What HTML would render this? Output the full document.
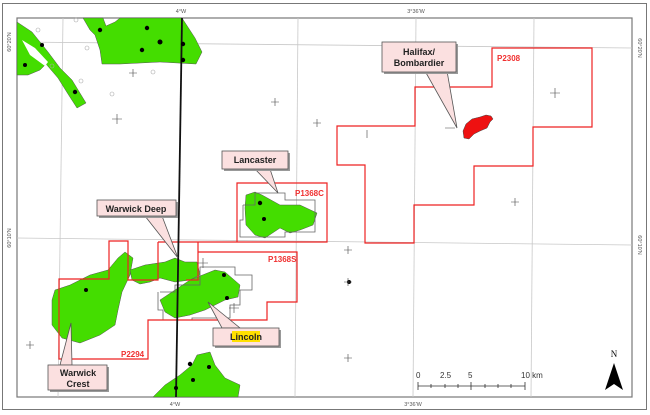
<!DOCTYPE html>
<html><head><meta charset="utf-8"><style>
body{margin:0;background:#fff;}
svg{display:block;font-family:"Liberation Sans",sans-serif;}
.cl{font-weight:bold;font-size:9px;fill:#222;text-anchor:middle}
.red{font-weight:bold;font-size:8px;fill:#f03030}
.ax{font-size:5.5px;fill:#555}
</style></head><body>
<svg width="650" height="415" viewBox="0 0 650 415">
<rect x="2.5" y="3.5" width="644" height="406" fill="#fff" stroke="#777" stroke-width="1"/>
<rect x="17" y="18" width="615" height="379" fill="#fff" stroke="#777" stroke-width="1.2"/>
<g stroke="#c8c8c8" stroke-width="0.8" fill="none">
<line x1="63" y1="18" x2="58" y2="397"/>
<line x1="298" y1="18" x2="295" y2="397"/>
<line x1="416" y1="18" x2="413" y2="397"/>
<line x1="534" y1="18" x2="531" y2="397"/>
<line x1="17" y1="42" x2="632" y2="48"/>
<line x1="17" y1="238" x2="632" y2="245"/>
</g>
<g fill="#44dd00" stroke="#555" stroke-width="0.5">
<path d="M17,22 L32,32 48,52 60,68 72,80 86,103 77,108 68,94 58,78 46,64 40,70 28,75 17,75Z"/>
<path d="M83,18 L103,18 106,26 115,22 120,18 182,18 195,38 202,52 196,64 160,62 120,64 102,64 100,50 95,35 90,30Z"/>
<path d="M246,195 L255,192 262,195 280,205 300,205 317,213 313,225 300,230 290,233 280,228 265,238 255,235 246,225 245,208Z"/>
<path d="M125,252 L133,258 130,275 122,292 118,310 115,325 100,335 80,343 62,338 52,325 52,300 55,290 70,285 90,275 108,270 118,258Z"/>
<path d="M130,270 L145,265 165,262 175,258 185,262 197,262 200,275 190,280 175,282 160,278 150,282 140,284 132,280Z"/>
<path d="M160,300 L175,290 190,280 215,270 225,272 240,285 238,297 225,300 215,305 205,310 190,315 175,318 165,312Z"/>
<path d="M153,397 L165,385 180,375 192,365 197,355 210,352 215,365 225,378 240,385 238,397Z"/>
</g>
<path d="M22,40 L35,48 48,62 45,66 30,55Z" fill="#fff"/>
<path d="M466,124 L472,119 480,117 486,115 491,116 493,119 490,122 487,128 480,131 474,134 469,139 464,138 463,131Z" fill="#ee1111" stroke="#444" stroke-width="0.5"/>
<g fill="none" stroke="#666" stroke-width="0.8">
<polyline points="243,205 255,205 255,193 285,193 285,200 315,200 315,232 285,232 285,237 240,237 240,220 243,220 243,205"/>
<polyline points="160,292 175,292 175,285 200,285 200,267 235,267 235,275 252,275 252,290 240,290 240,305 230,305 230,318 192,318 192,320 163,320 163,310 158,310 158,292"/>
</g>
<g fill="none" stroke="#ee2222" stroke-width="1.2">
<polygon points="492,48 592,48 592,127 533,127 533,166 474,166 474,205 414,205 414,243 365,243 365,165 337,165 337,126 415,126 415,87 492,87"/>
<polyline points="237,242 237,183 327,183 327,242 158,242"/>
<polyline points="198,242 198,280 186,280"/>
<polyline points="198,252 297,252 297,302 267,302 267,320 148,320 148,359 59,359 59,279 109,279 109,241 128,241 128,280 158,280 158,242"/>
</g>
<text class="red" x="497" y="61">P2308</text>
<text class="red" x="295" y="196">P1368C</text>
<text class="red" x="268" y="262">P1368S</text>
<text class="red" x="121" y="357">P2294</text>
<line x1="182" y1="18" x2="176" y2="397" stroke="#111" stroke-width="1.8"/>
<g fill="#000">
<circle cx="100" cy="30" r="2.2"/><circle cx="147" cy="28" r="2.2"/><circle cx="160" cy="42" r="2.5"/><circle cx="142" cy="50" r="2.2"/><circle cx="183" cy="44" r="2.2"/><circle cx="183" cy="60" r="2.2"/><circle cx="25" cy="65" r="2"/><circle cx="42" cy="45" r="2"/><circle cx="75" cy="92" r="2.2"/>
<circle cx="260" cy="203" r="2.2"/><circle cx="264" cy="219" r="2"/><circle cx="86" cy="290" r="2"/><circle cx="224" cy="275" r="2"/><circle cx="227" cy="298" r="2"/><circle cx="190" cy="364" r="2.2"/><circle cx="209" cy="367" r="2"/><circle cx="193" cy="380" r="2"/><circle cx="176" cy="388" r="2"/><circle cx="349" cy="282" r="2"/>
</g>
<g stroke="#444" stroke-width="0.6">
<path d="M275,98 v8 M271,102 h8 M317,119 v8 M313,123 h8 M133,69 v8 M129,73 h8 M30,341 v8 M26,345 h8 M348,246 v8 M344,250 h8 M348,278 v8 M344,282 h8 M445,128 h10 M367,130 v8 M555,88 v10 M550,93 h10 M515,198 v8 M511,202 h8 M348,354 v8 M344,358 h8 M117,114 v10 M112,119 h10 M234,303 v10 M229,308 h10 M203,258 v10 M198,263 h10"/>
</g>
<g fill="none" stroke="#aaa" stroke-width="0.6"><circle cx="76" cy="20" r="2"/><circle cx="38" cy="30" r="2"/><circle cx="87" cy="48" r="2"/><circle cx="153" cy="72" r="2"/><circle cx="81" cy="81" r="2"/><circle cx="112" cy="94" r="2"/><circle cx="52" cy="66" r="2"/></g>
<g stroke="#555" stroke-width="0.8">
<polygon points="425,71 447,71 457,128" fill="#fbe0e0"/>
<rect x="384" y="44" width="74" height="30" fill="#999" stroke="none"/>
<rect x="382" y="42" width="74" height="30" fill="#fbe0e0"/>
<polygon points="255,169 270,169 278,193" fill="#fbe0e0"/>
<rect x="224" y="153" width="66" height="18" fill="#999" stroke="none"/>
<rect x="222" y="151" width="66" height="18" fill="#fbe0e0"/>
<polygon points="145,216 162,216 178,258" fill="#fbe0e0"/>
<rect x="99" y="202" width="79" height="16" fill="#999" stroke="none"/>
<rect x="97" y="200" width="79" height="16" fill="#fbe0e0"/>
<polygon points="222,328 240,328 208,302" fill="#fbe0e0"/>
<rect x="215" y="330" width="66" height="18" fill="#999" stroke="none"/>
<rect x="213" y="328" width="66" height="18" fill="#fbe0e0"/>
<polygon points="60,365 72,365 71,323" fill="#fbe0e0"/>
<rect x="50" y="367" width="59" height="25" fill="#999" stroke="none"/>
<rect x="48" y="365" width="59" height="25" fill="#fbe0e0"/>
</g>
<text class="cl" x="419" y="55">Halifax/</text>
<text class="cl" x="419" y="66">Bombardier</text>
<text class="cl" x="255" y="163">Lancaster</text>
<text class="cl" x="136" y="212">Warwick Deep</text>
<rect x="232" y="331" width="28" height="11" fill="#ffe000"/>
<text class="cl" x="246" y="340">Lincoln</text>
<text class="cl" x="78" y="376">Warwick</text>
<text class="cl" x="78" y="387">Crest</text>
<text class="ax" x="181" y="13" text-anchor="middle">4°W</text>
<text class="ax" x="175" y="406" text-anchor="middle">4°W</text>
<text class="ax" x="416" y="13" text-anchor="middle">3°36'W</text>
<text class="ax" x="413" y="406" text-anchor="middle">3°36'W</text>
<text class="ax" transform="translate(11,42) rotate(-90)" text-anchor="middle">60°20'N</text>
<text class="ax" transform="translate(11,238) rotate(-90)" text-anchor="middle">60°10'N</text>
<text class="ax" transform="translate(638,48) rotate(90)" text-anchor="middle">60°20'N</text>
<text class="ax" transform="translate(638,245) rotate(90)" text-anchor="middle">60°10'N</text>
<g stroke="#333" stroke-width="0.8">
<line x1="418" y1="386" x2="525" y2="386"/>
<path d="M418,382 v8 M431,384 v4 M445,384 v4 M458,384 v4 M471,382 v8 M485,384 v4 M498,384 v4 M511,384 v4 M525,382 v8"/>
</g>
<g font-size="8" fill="#333"><text x="416" y="378">0</text><text x="440" y="378">2.5</text><text x="468" y="378">5</text><text x="521" y="378">10 km</text></g>
<text x="614" y="357" font-size="9" text-anchor="middle" font-family="Liberation Serif,serif">N</text>
<polygon points="614,363 605,390 614,384 623,390" fill="#000"/>
</svg>
</body></html>
